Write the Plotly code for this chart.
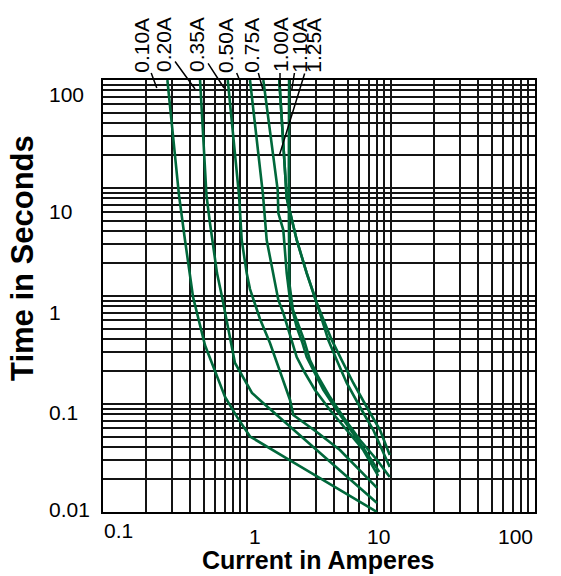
import math
import plotly.graph_objects as go

# ---------------- data ----------------
ratings = ["0.10A", "0.20A", "0.35A", "0.50A", "0.75A", "1.00A", "1.10A", "1.25A"]

c010_x = [0.28, 0.337, 0.371, 0.422, 0.511, 0.60, 0.704, 0.852, 1.05, 1.99, 8.0]
c010_y = [100, 8.6, 3.3, 0.98, 0.35, 0.20, 0.116, 0.076, 0.050, 0.030, 0.010]

c020_x = [0.472, 0.523, 0.553, 0.619, 0.671, 0.774, 0.825, 1.083, 1.271, 8.0]
c020_y = [100, 8.6, 4.74, 1.63, 0.98, 0.352, 0.24, 0.1265, 0.1044, 0.0121]

c035_x = [0.735, 0.880, 0.919, 0.995, 1.049, 1.231, 1.444, 1.565, 1.742, 1.99, 2.097, 3.05, 4.42, 8.0]
c035_y = [100, 8.6, 3.3, 1.63, 1.16, 0.612, 0.367, 0.272, 0.178, 0.109, 0.079, 0.0551, 0.0375, 0.0167]

c050_x = [1.049, 1.292, 1.370, 1.484, 1.650, 1.787, 2.07, 2.214, 2.528, 2.966, 3.77, 4.925, 6.42, 8.15]
c050_y = [100, 8.6, 3.3, 1.86, 0.918, 0.696, 0.367, 0.272, 0.1936, 0.135, 0.088, 0.0574, 0.0375, 0.0216]

c075_x = [1.298, 1.634, 1.650, 1.787, 1.887, 1.99, 2.214, 2.429, 2.598, 2.966, 3.388, 4.197, 5.473, 6.78, 8.3]
c075_y = [100, 9.58, 5.87, 4.08, 1.63, 0.918, 0.516, 0.367, 0.272, 0.1936, 0.135, 0.088, 0.0538, 0.0352, 0.0235]

c100_x = [1.676, 1.887, 2.214, 2.598, 3.05, 3.37, 3.67, 4.197, 4.925, 6.09, 7.54, 9.8]
c100_y = [100, 8.08, 3.3, 1.63, 0.861, 0.562, 0.392, 0.255, 0.1565, 0.0938, 0.0574, 0.0261]

c110_x = [1.96, 1.95, 1.967, 2.086, 2.488, 2.738, 3.127, 3.77, 4.665, 6.09, 8.0, 9.8]
c110_y = [100, 8.6, 1.32, 0.741, 0.392, 0.255, 0.178, 0.116, 0.0758, 0.0464, 0.0303, 0.0211]

c125_x = [1.676, 1.887, 2.214, 2.598, 3.05, 3.425, 3.876, 4.546, 5.473, 6.78, 8.39, 9.8]
c125_y = [100, 8.08, 3.3, 1.63, 0.861, 0.587, 0.392, 0.255, 0.1565, 0.0938, 0.0574, 0.0337]

# time (s) on each curve where its label's leader line ends
leader_end_t = [100, 100, 100, 100, 100, 100, 100, 20]

x_tick_labels = ["0.1", "1", "10", "100"]
x_tick_values = [0.1, 1, 10, 100]
y_tick_labels = ["100", "10", "1", "0.1", "0.01"]
y_tick_values = [100, 10, 1, 0.1, 0.01]

curves_x = [c010_x, c020_x, c035_x, c050_x, c075_x, c100_x, c110_x, c125_x]
curves_y = [c010_y, c020_y, c035_y, c050_y, c075_y, c100_y, c110_y, c125_y]

# ---------------- figure ----------------
GREEN = "#00683B"
FONT = "Arial, Liberation Sans, Helvetica, sans-serif"
PAGE_MARGIN = 8          # default <body> margin of the html page
PLOT_W, PLOT_H = 432, 432

fig = go.Figure()
for name, xs, ys in zip(ratings, curves_x, curves_y):
    fig.add_trace(go.Scatter(x=xs, y=ys, mode="lines", name=name,
                             line=dict(color=GREEN, width=2.6),
                             showlegend=False, hoverinfo="skip"))

x_grid = [m * 10 ** e for e in range(-1, 2) for m in range(1, 10)] + [100]
y_grid = [m * 10 ** e for e in range(-2, 2) for m in range(1, 10)] + [100]

axis_common = dict(type="log", showticklabels=False, ticks="", showgrid=True,
                   gridcolor="#141414", gridwidth=1.5, showline=True,
                   linecolor="black", linewidth=2, mirror=True, zeroline=False)
fig.update_xaxes(range=[-1, 2], tickvals=x_grid, **axis_common)
fig.update_yaxes(range=[-2, 2], tickvals=y_grid, **axis_common)


def px_x(p):   # screen pixel -> paper x
    return (p - 103) / PLOT_W


def px_y(p):   # screen pixel -> paper y
    return 1 - (p - 80) / PLOT_H


annotations = []
# y tick labels (left aligned, as in the reference)
y_shifts = [-14, -23, -16, -8, 3]
for lab, v, sh in zip(y_tick_labels, y_tick_values, y_shifts):
    annotations.append(dict(text=lab, x=px_x(48), xref="paper", xanchor="left",
                            y=math.log10(v), yref="y", yanchor="middle", yshift=sh,
                            showarrow=False, borderpad=0,
                            font=dict(family=FONT, size=21, color="black")))
# x tick labels (placed as loosely as in the reference)
x_shift = [15, 8, -13, -20]
x_yshift = [-18, -24, -24, -24]
for lab, v, xs, ys in zip(x_tick_labels, x_tick_values, x_shift, x_yshift):
    annotations.append(dict(text=lab, x=math.log10(v), xref="x", xanchor="center", xshift=xs,
                            y=0, yref="paper", yanchor="middle", yshift=ys,
                            showarrow=False, borderpad=0,
                            font=dict(family=FONT, size=21, color="black")))

# rotated rating labels with leader lines
tip_shift = [(-10.6, -8), (-5, -9), (-3.7, -8), (-10, -1), (-0.6, -9), (0.7, -7), (2.7, -10), (0, 0)]
text_offset = [(-16, -43), (-32, -44), (-28, -43), (-15, -36), (-12, -44), (0, -42), (7, -45), (34, -110)]
for name, xs, t, (sx, sy), (ax, ay) in zip(ratings, curves_x, leader_end_t, tip_shift, text_offset):
    annotations.append(dict(text=name, x=math.log10(xs[0]), xref="x", y=math.log10(t), yref="y",
                            xshift=sx, yshift=sy, ax=ax, ay=ay, axref="pixel", ayref="pixel",
                            showarrow=True, arrowhead=0, arrowwidth=1.5, arrowcolor="black",
                            standoff=0, textangle=-90, borderpad=0,
                            font=dict(family=FONT, size=21, color="black")))

# axis titles
annotations.append(dict(text="<b>Current in Amperes</b>", x=px_x(318), xref="paper",
                        y=px_y(575), yref="paper",
                        xanchor="center", yanchor="bottom", showarrow=False, borderpad=0,
                        font=dict(family=FONT, size=25, color="black")))
annotations.append(dict(text="<b>Time in Seconds</b>", x=px_x(23), xref="paper",
                        y=px_y(258), yref="paper",
                        xanchor="center", yanchor="middle", showarrow=False, textangle=-90,
                        borderpad=0,
                        font=dict(family=FONT, size=31, color="black")))

# the page adds an 8px body margin, so the figure is drawn 8px smaller and
# its margins are reduced by 8px to keep the plot area where the reference has it
fig.update_layout(width=561 - PAGE_MARGIN, height=576 - PAGE_MARGIN,
                  margin=dict(l=103 - PAGE_MARGIN, r=561 - 535, t=80 - PAGE_MARGIN, b=576 - 512),
                  paper_bgcolor="white", plot_bgcolor="white",
                  annotations=annotations, showlegend=False)

fig.write_html("out.html")
